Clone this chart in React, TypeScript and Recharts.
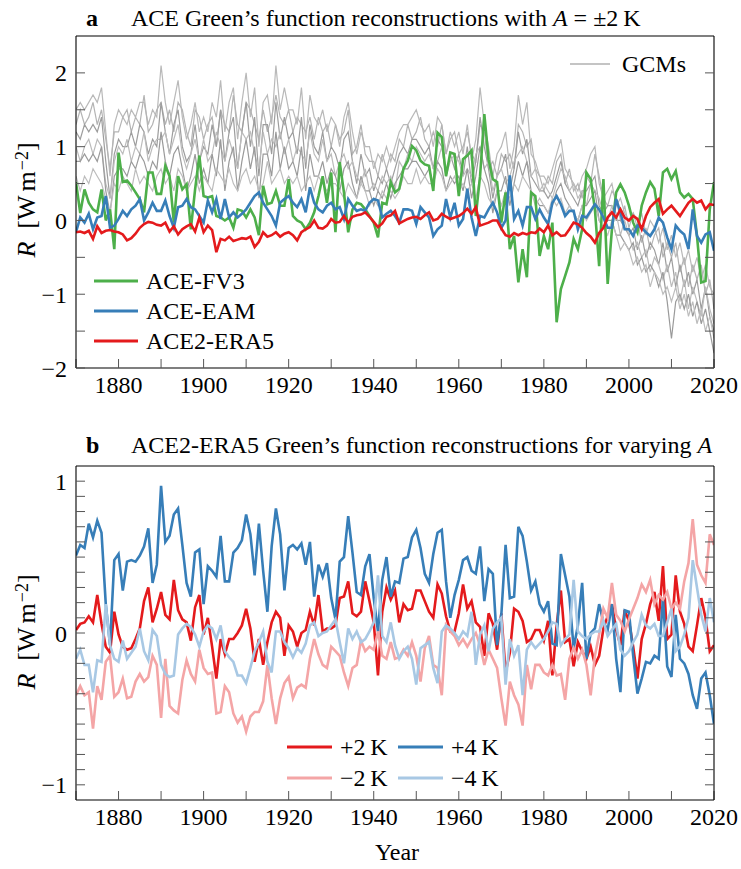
import React from 'react';
import { LineChart, Line, XAxis, YAxis } from 'recharts';

const FONT = '"Liberation Serif", "Times New Roman", Times, serif';

// Years 1870..2020 (categories)
const YEARS: number[] = Array.from({ length: 151 }, (_, i) => 1870 + i);

const X_TICKS = [1870, 1880, 1890, 1900, 1910, 1920, 1930, 1940, 1950, 1960, 1970, 1980, 1990, 2000, 2010, 2020];
const YA_TICKS = [-2, -1.5, -1, -0.5, 0, 0.5, 1, 1.5, 2];
const YB_TICKS = [-1, -0.9, -0.8, -0.7, -0.6, -0.5, -0.4, -0.3, -0.2, -0.1, 0, 0.1, 0.2, 0.3, 0.4, 0.5, 0.6, 0.7, 0.8, 0.9, 1];

// ---------- Panel a ----------
const ACE_FV3 = [
  0.52, 0.1, 0.42, 0.24, 0.15, 0.11, 0.42, 0.0, 0.15, -0.39,
  0.92, 0.52, 0.54, 0.47, 0.38, 0.29, 0.11, 0.65, 0.65, 0.36,
  0.36, 0.74, 0.6, -0.03, 0.6, 0.42, 0.49, -0.12, 0.42, 0.88,
  0.33, 0.31, 0.33, 0.06, 0.04, 0.0, 0.04, -0.1, 0.15, 0.13,
  0.04, 0.15, 0.04, -0.2, 0.47, 0.22, 0.24, 0.4, 0.2, 0.2,
  0.56, 0.06, 0.0, -0.03, -0.12, -0.03, 0.11, 0.33, 0.6, 0.24,
  0.65, -0.16, 0.79, 0.38, -0.16, 0.15, 0.24, 0.22, 0.15, 0.06,
  -0.03, -0.23, 0.24, 0.22, 0.52, 0.38, 0.43, 0.7, 0.81, 1.01,
  0.95, 0.81, 0.76, 0.74, 0.4, 1.19, 1.13, 0.6, 0.92, 0.9,
  0.33, 0.83, 0.88, 0.95, 0.06, 0.6, 1.44, 0.83, 0.56, 0.52,
  -0.03, 0.38, -0.39, -0.21, -0.84, -0.39, -0.77, 0.38, 0.33, -0.48,
  -0.21, -0.39, -0.03, -1.38, -0.93, -0.75, -0.57, -0.25, -0.39, -0.12,
  0.65, 0.56, 0.15, -0.62, 0.56, -0.86, -0.12, 0.38, 0.49, 0.38,
  0.2, -0.03, -0.16, 0.2, 0.38, 0.52, 0.43, 0.06, 0.65, 0.7,
  0.56, 0.67, 0.38, 0.31, 0.36, 0.29, -0.21, -0.84, -0.82, 0.15, 0.52,
];

const ACE_EAM = [
  -0.16, 0.04, -0.03, 0.09, -0.12, 0.04, 0.06, 0.33, -0.1, -0.07,
  0.02, 0.13, 0.06, 0.15, 0.2, 0.29, 0.0, 0.11, 0.24, 0.13,
  0.13, 0.27, 0.06, -0.1, 0.18, 0.2, 0.29, 0.18, 0.15, 0.06,
  -0.03, 0.27, 0.11, 0.29, 0.02, 0.29, 0.04, 0.11, 0.04, 0.09,
  0.15, 0.24, 0.33, 0.38, 0.24, 0.15, 0.06, -0.07, 0.24, 0.29,
  0.33, 0.24, 0.18, 0.29, 0.11, 0.45, 0.24, 0.15, 0.11, 0.2,
  0.24, 0.15, 0.18, 0.02, 0.29, 0.2, 0.13, 0.15, 0.13, 0.24,
  0.29, 0.27, 0.04, 0.09, 0.13, 0.06, -0.03, 0.15, 0.15, 0.13,
  -0.05, 0.18, 0.11, 0.04, -0.21, -0.12, -0.07, 0.29, 0.04, 0.24,
  -0.07, 0.02, 0.43, 0.04, -0.21, 0.06, 0.04, 0.15, 0.24, 0.11,
  -0.1, 0.0, 0.61, 0.02, 0.13, -0.07, 0.18, 0.18, 0.02, 0.15,
  0.04, -0.05, 0.24, 0.33, 0.22, 0.06, 0.13, 0.13, -0.12, 0.06,
  0.04, 0.13, 0.22, 0.15, 0.04, -0.1, -0.1, 0.29, 0.11, -0.12,
  -0.12, -0.21, -0.07, -0.1, -0.16, -0.21, -0.12, 0.04, -0.03, -0.23,
  -0.39, -0.07, -0.14, -0.19, -0.39, 0.15, -0.21, -0.3, -0.19, -0.16, -0.41,
];

const ACE2_ERA5 = [
  -0.16, -0.15, -0.17, -0.14, -0.25, -0.08, -0.17, -0.14, -0.13, -0.15,
  -0.16, -0.19, -0.27, -0.24, -0.18, -0.1, -0.05, -0.02, -0.03, -0.06,
  -0.07, -0.03, -0.15, -0.08, -0.19, -0.12, -0.08, -0.05, -0.15, 0.04,
  -0.16, -0.07, -0.13, -0.43, -0.25, -0.27, -0.22, -0.28, -0.26, -0.24,
  -0.25, -0.22, -0.36, -0.29, -0.16, -0.22, -0.2, -0.16, -0.22, -0.18,
  -0.16, -0.2, -0.27, -0.16, -0.12, -0.09, 0.0, -0.1, -0.11, -0.07,
  0.02, -0.03, -0.02, 0.06, -0.03, 0.05, 0.07, 0.08, 0.11, 0.05,
  -0.02, -0.09, -0.04, 0.05, 0.07, 0.13, -0.04, -0.01, 0.02, 0.04,
  0.05, 0.02, 0.07, 0.11, 0.0, 0.02, 0.09, 0.05, 0.02, 0.04,
  0.06, 0.1, 0.16, 0.09, 0.18, -0.07, -0.05, -0.03, 0.0, 0.0,
  -0.11, -0.2, -0.22, -0.17, -0.2, -0.17, -0.19, -0.16, -0.17, -0.11,
  -0.16, -0.07, -0.2, -0.16, -0.21, -0.2, -0.12, -0.03, -0.05, -0.1,
  -0.17, -0.22, -0.3, -0.17, -0.1, 0.04, 0.11, 0.04, 0.15, 0.04,
  0.0, 0.06, 0.02, -0.12, 0.06, 0.18, 0.24, 0.29, 0.09, 0.15,
  0.2, 0.13, 0.06, 0.15, 0.24, 0.29, 0.24, 0.27, 0.15, 0.22, 0.21,
];

const GCM_1 = [
  1.5, 1.6, 1.5, 1.6, 1.7, 1.6, 1.8, 1.2, 0.6, 1.3,
  1.5, 1.4, 1.3, 1.5, 1.4, 1.6, 1.6, 1.3, 1.5, 1.4,
  2.1, 1.6, 1.3, 1.6, 1.9, 1.4, 1.1, 1.3, 1.6, 1.2,
  1.4, 1.2, 1.6, 1.4, 1.9, 1.2, 1.6, 1.8, 1.1, 1.6,
  2.0, 1.4, 1.8, 1.0, 1.6, 1.7, 1.3, 2.1, 1.5, 1.8,
  1.5, 1.5, 1.3, 1.8, 1.1, 1.7, 1.4, 1.3, 1.5, 1.2,
  1.4, 1.3, 1.0, 1.4, 1.6, 1.2, 0.9, 1.2, 1.0, 1.0,
  0.7, 0.9, 0.8, 1.0, 0.8, 1.0, 1.2, 1.3, 1.3, 1.4,
  1.5, 1.3, 1.2, 1.3, 1.0, 1.4, 1.3, 0.9, 1.2, 1.0,
  1.2, 0.9, 1.3, 0.8, 1.1, 1.8, 1.3, 1.0, 0.6, 0.9,
  1.0, 1.2, 0.7, 1.0, 1.7, 1.3, 1.6, 0.9, 0.8, 0.6,
  0.6, 0.5, 0.7, 0.9, 1.1, 0.7, 0.6, 0.5, 0.4, 0.6,
  0.7, 0.9, 1.0, 0.5, 0.3, 0.4, 0.5, 0.2, 0.3, 0.1,
  0.0, 0.1, -0.1, 0.1, -0.2, 0.0, -0.1, -0.3, -0.1, -0.4,
  -0.2, -0.5, -0.3, -0.6, -0.4, -0.7, -0.5, -0.8, -0.6, -0.9, -1.0,
];

const GCM_2 = [
  1.3, 1.5, 1.3, 1.4, 1.6, 1.3, 1.5, 1.1, 0.7, 1.2,
  1.2, 1.4, 1.5, 1.2, 1.4, 1.3, 1.7, 1.2, 1.3, 1.5,
  1.6, 1.3, 1.5, 1.2, 1.6, 1.5, 1.2, 1.0, 1.5, 1.4,
  1.1, 1.3, 1.4, 1.0, 1.5, 1.3, 1.2, 1.7, 1.3, 1.2,
  1.6, 1.5, 1.3, 1.1, 1.5, 1.2, 1.4, 1.7, 1.4, 1.3,
  1.5, 1.2, 1.4, 1.3, 1.2, 1.4, 1.1, 1.4, 1.2, 1.3,
  1.0, 1.3, 1.1, 1.2, 1.5, 0.9, 1.0, 1.3, 0.9, 0.8,
  0.8, 0.6, 0.9, 0.7, 0.9, 0.8, 1.1, 1.0, 1.3, 1.1,
  1.2, 1.4, 1.1, 1.0, 1.2, 1.0, 1.3, 0.9, 1.1, 1.2,
  0.9, 1.0, 1.2, 0.9, 0.8, 1.3, 1.2, 0.7, 0.8, 0.6,
  0.9, 0.8, 0.9, 0.7, 1.3, 1.2, 1.0, 1.1, 0.7, 0.6,
  0.4, 0.6, 0.5, 0.8, 0.9, 0.5, 0.7, 0.4, 0.5, 0.3,
  0.6, 0.5, 0.9, 0.6, 0.3, 0.2, 0.4, 0.3, 0.0, 0.2,
  -0.1, 0.1, 0.0, -0.3, -0.1, -0.4, -0.2, -0.1, -0.5, -0.3,
  -0.5, -0.3, -0.7, -0.5, -0.9, -0.6, -0.8, -0.6, -1.0, -0.8, -1.2,
];

const GCM_3 = [
  1.2, 1.1, 1.3, 1.2, 1.3, 1.2, 1.4, 0.8, 0.3, 0.9,
  1.1, 1.0, 1.0, 1.2, 1.0, 1.3, 1.2, 0.9, 1.1, 1.0,
  1.6, 1.2, 0.9, 1.3, 1.5, 1.0, 0.8, 0.9, 1.3, 0.8,
  1.0, 0.9, 1.3, 1.0, 1.5, 0.8, 1.2, 1.4, 0.7, 1.2,
  1.6, 1.0, 1.4, 0.6, 1.3, 1.3, 0.9, 1.6, 1.1, 1.4,
  1.1, 1.2, 0.9, 1.4, 0.7, 1.3, 1.0, 0.9, 1.2, 0.8,
  1.0, 0.9, 0.7, 1.1, 1.2, 0.8, 0.5, 0.9, 0.6, 0.7,
  0.4, 0.6, 0.5, 0.7, 0.5, 0.7, 0.9, 1.0, 0.9, 1.1,
  1.1, 1.0, 0.9, 1.0, 0.7, 1.1, 1.0, 0.6, 0.9, 0.7,
  0.9, 0.6, 1.0, 0.5, 0.8, 1.4, 1.0, 0.7, 0.3, 0.6,
  0.7, 0.9, 0.4, 0.7, 1.2, 0.9, 1.1, 0.6, 0.5, 0.4,
  0.4, 0.3, 0.4, 0.6, 0.8, 0.5, 0.4, 0.3, 0.2, 0.4,
  0.4, 0.5, 0.6, 0.2, 0.1, 0.2, 0.2, 0.0, 0.0, -0.1,
  -0.2, -0.1, -0.4, -0.2, -0.5, -0.3, -0.4, -0.6, -0.3, -0.7,
  -0.5, -0.9, -0.6, -0.9, -0.7, -1.0, -0.8, -1.2, -0.9, -1.3, -1.5,
];

const GCM_4 = [
  1.0, 0.8, 1.0, 1.1, 0.9, 1.1, 1.0, 0.5, 0.3, 0.8,
  1.0, 0.9, 1.1, 0.8, 1.0, 0.9, 1.2, 0.8, 1.0, 1.1,
  1.1, 1.2, 0.9, 1.1, 1.3, 0.9, 0.7, 0.9, 1.1, 0.8,
  1.1, 0.8, 0.9, 1.2, 1.0, 0.8, 1.1, 0.9, 0.7, 1.2,
  1.1, 1.2, 0.9, 0.7, 1.2, 0.9, 1.1, 1.0, 1.2, 0.9,
  1.1, 0.8, 1.0, 0.9, 0.8, 1.2, 0.9, 0.8, 1.1, 0.8,
  0.9, 0.6, 0.8, 0.9, 0.7, 0.8, 0.6, 0.5, 0.7, 0.4,
  0.5, 0.4, 0.6, 0.5, 0.6, 0.4, 0.8, 0.7, 0.9, 0.8,
  1.0, 0.9, 0.8, 0.9, 0.7, 0.8, 1.0, 0.6, 0.8, 0.9,
  0.8, 0.6, 0.7, 0.6, 0.9, 1.0, 0.7, 0.8, 0.4, 0.6,
  0.7, 0.5, 0.6, 0.8, 0.9, 1.0, 0.8, 0.6, 0.7, 0.4,
  0.5, 0.4, 0.3, 0.5, 0.7, 0.6, 0.4, 0.5, 0.3, 0.4,
  0.2, 0.5, 0.4, 0.3, 0.1, 0.0, 0.2, 0.1, -0.2, 0.0,
  -0.2, -0.4, -0.3, -0.5, -0.4, -0.7, -0.5, -0.6, -0.8, -0.6,
  -0.9, -0.7, -1.1, -0.8, -1.2, -0.9, -1.1, -1.3, -0.9, -1.2, -1.4,
];

const GCM_5 = [
  0.8, 0.8, 0.9, 0.8, 0.9, 0.8, 1.0, 0.4, 0.1, 0.6,
  0.7, 0.7, 0.6, 0.8, 0.7, 0.9, 0.8, 0.6, 0.8, 0.7,
  1.2, 0.8, 0.6, 0.9, 1.0, 0.7, 0.4, 0.6, 0.9, 0.5,
  0.7, 0.5, 0.9, 0.6, 1.1, 0.4, 0.8, 1.0, 0.4, 0.8,
  1.1, 0.7, 1.0, 0.3, 0.9, 0.9, 0.6, 1.2, 0.7, 1.0,
  0.7, 0.8, 0.6, 1.0, 0.4, 0.9, 0.6, 0.6, 0.8, 0.5,
  0.7, 0.6, 0.4, 0.7, 0.8, 0.5, 0.3, 0.6, 0.4, 0.4,
  0.2, 0.4, 0.3, 0.5, 0.3, 0.5, 0.6, 0.7, 0.7, 0.8,
  0.8, 0.7, 0.6, 0.7, 0.5, 0.8, 0.7, 0.4, 0.6, 0.5,
  0.6, 0.4, 0.7, 0.3, 0.6, 1.0, 0.7, 0.5, 0.1, 0.4,
  0.4, 0.6, 0.2, 0.5, 0.8, 0.6, 0.8, 0.4, 0.3, 0.2,
  0.2, 0.1, 0.2, 0.4, 0.5, 0.3, 0.2, 0.1, 0.0, 0.2,
  0.2, 0.3, 0.4, 0.0, -0.1, 0.0, 0.0, -0.2, -0.2, -0.3,
  -0.4, -0.3, -0.6, -0.5, -0.7, -0.6, -0.7, -0.9, -0.7, -1.1,
  -1.6, -1.1, -1.0, -1.2, -1.0, -1.3, -1.1, -1.4, -1.2, -1.5, -1.8,
];

const GCM_6 = [
  0.6, 0.4, 0.6, 0.5, 0.7, 0.6, 0.5, 0.3, 0.1, 0.5,
  0.4, 0.6, 0.5, 0.4, 0.7, 0.5, 0.6, 0.5, 0.4, 0.6,
  0.7, 0.5, 0.6, 0.4, 0.7, 0.6, 0.4, 0.5, 0.6, 0.4,
  0.6, 0.5, 0.4, 0.7, 0.6, 0.5, 0.7, 0.5, 0.4, 0.6,
  0.7, 0.5, 0.6, 0.4, 0.5, 0.8, 0.5, 0.6, 0.7, 0.5,
  0.6, 0.5, 0.6, 0.4, 0.5, 0.6, 0.4, 0.6, 0.5, 0.4,
  0.5, 0.5, 0.4, 0.3, 0.5, 0.4, 0.3, 0.5, 0.4, 0.2,
  0.3, 0.2, 0.4, 0.3, 0.4, 0.3, 0.4, 0.6, 0.5, 0.5,
  0.7, 0.5, 0.6, 0.5, 0.5, 0.7, 0.6, 0.4, 0.5, 0.6,
  0.4, 0.5, 0.4, 0.5, 0.3, 0.6, 0.5, 0.3, 0.2, 0.4,
  0.2, 0.4, 0.3, 0.5, 0.4, 0.6, 0.5, 0.4, 0.2, 0.3,
  0.2, 0.1, 0.3, 0.2, 0.3, 0.1, 0.2, 0.1, 0.0, 0.2,
  0.0, 0.1, 0.2, 0.0, -0.1, -0.2, 0.0, -0.2, -0.4, -0.3,
  -0.4, -0.6, -0.5, -0.7, -0.6, -0.9, -0.7, -0.8, -1.0, -0.9,
  -1.1, -0.9, -1.2, -1.0, -1.3, -1.1, -1.4, -1.2, -1.5, -1.3, -1.6,
];

// ---------- Panel b ----------
const PLUS_2K = [
  0.02, 0.06, 0.07, 0.11, 0.07, 0.25, 0.06, -0.09, -0.13, 0.14,
  -0.01, -0.09, -0.11, -0.1, -0.04, 0.03, 0.21, 0.3, 0.07, 0.16,
  0.27, 0.12, 0.09, 0.35, 0.15, 0.09, 0.07, -0.05, 0.17, 0.25,
  -0.01, 0.1, -0.09, -0.3, -0.04, -0.14, -0.04, -0.04, 0.0, 0.05,
  0.16, 0.03, -0.19, -0.04, -0.21, -0.06, 0.07, 0.14, 0.1, -0.15,
  0.05, 0.01, -0.09, 0.0, 0.02, 0.14, 0.05, 0.25, 0.01, 0.03,
  0.03, 0.05, 0.23, 0.24, 0.34, 0.13, 0.11, 0.14, 0.34, 0.21,
  0.07, -0.28, 0.14, 0.3, 0.22, 0.28, 0.07, 0.19, 0.15, 0.16,
  0.28, 0.28, 0.21, 0.14, 0.1, 0.32, 0.26, 0.11, 0.01, 0.01,
  0.13, 0.32, 0.16, 0.21, 0.07, 0.04, -0.15, 0.13, 0.06, -0.11,
  0.13, -0.26, -0.13, 0.16, 0.14, 0.08, -0.06, -0.04, 0.02, 0.02,
  -0.05, 0.08, -0.28, 0.05, 0.28, -0.06, -0.04, -0.22, -0.06, -0.12,
  -0.17, -0.09, -0.21, -0.15, 0.03, 0.11, 0.19, 0.02, -0.08, 0.15,
  0.08, -0.09, -0.3, -0.04, 0.06, 0.19, 0.27, 0.08, 0.44, -0.04,
  -0.01, 0.38, 0.14, 0.06, -0.09, -0.12, 0.05, 0.23, 0.1, -0.12, -0.08,
];

const PLUS_4K = [
  0.51, 0.58, 0.56, 0.72, 0.63, 0.74, 0.66, 0.19, -0.08, 0.48,
  0.52, 0.28, 0.47, 0.48, 0.47, 0.51, 0.57, 0.69, 0.33, 0.45,
  0.97, 0.6, 0.64, 0.78, 0.82, 0.58, 0.33, 0.24, 0.53, 0.55,
  0.19, 0.44, 0.41, 0.37, 0.64, 0.34, 0.34, 0.53, 0.56, 0.61,
  0.78, 0.65, 0.38, 0.72, 0.41, 0.14, 0.57, 0.82, 0.65, 0.28,
  0.56, 0.58, 0.55, 0.59, 0.45, 0.6, 0.24, 0.45, 0.37, 0.46,
  0.23, 0.09, 0.47, 0.5, 0.77, 0.53, 0.27, 0.25, 0.44, 0.52,
  0.23, 0.01, 0.35, 0.5, 0.24, 0.34, 0.33, 0.49, 0.5, 0.63,
  0.68, 0.56, 0.39, 0.33, 0.52, 0.66, 0.68, 0.34, 0.1, 0.25,
  0.35, 0.48, 0.5, 0.41, 0.39, 0.57, 0.21, 0.42, 0.39, -0.08,
  0.12, 0.58, 0.23, 0.24, 0.7, 0.64, 0.47, 0.28, 0.34, 0.19,
  0.14, 0.21, -0.07, -0.08, 0.52, 0.38, 0.24, -0.1, 0.05, 0.33,
  -0.17, 0.0, 0.03, 0.19, 0.07, 0.02, 0.19, -0.17, -0.39, 0.15,
  0.14, -0.15, -0.4, -0.3, -0.19, -0.2, -0.15, -0.17, 0.23, -0.22,
  -0.29, 0.12, -0.17, -0.2, -0.27, -0.41, -0.5, -0.3, -0.26, -0.41, -0.6,
];

const MINUS_2K = [
  -0.41, -0.35, -0.41, -0.39, -0.63, -0.35, -0.44, -0.19, -0.15, -0.42,
  -0.39, -0.3, -0.43, -0.42, -0.32, -0.27, -0.32, -0.29, -0.15, -0.21,
  -0.56, -0.17, -0.48, -0.51, -0.53, -0.31, -0.18, -0.27, -0.32, -0.11,
  -0.23, -0.27, -0.26, -0.53, -0.52, -0.35, -0.39, -0.53, -0.59, -0.55,
  -0.65, -0.55, -0.52, -0.52, -0.45, -0.21, -0.43, -0.6, -0.43, -0.33,
  -0.29, -0.43, -0.36, -0.34, -0.36, -0.17, -0.04, -0.14, -0.21, -0.23,
  -0.09, -0.12, -0.15, -0.26, -0.35, -0.23, -0.21, -0.05, -0.12, -0.09,
  -0.11, 0.01, -0.15, -0.17, -0.06, -0.17, -0.16, -0.11, -0.15, -0.06,
  -0.15, -0.32, -0.1, -0.02, -0.21, -0.23, -0.41, 0.05, 0.01, -0.02,
  -0.08, -0.04, -0.09, -0.04, 0.0, -0.08, -0.21, -0.11, -0.17, -0.23,
  -0.43, -0.61, -0.32, -0.41, -0.47, -0.61, -0.21, -0.37, -0.21, -0.21,
  -0.26, -0.28, -0.21, -0.28, -0.27, -0.44, -0.17, -0.1, -0.17, -0.11,
  -0.21, -0.41, -0.15, -0.01, 0.16, 0.1, 0.33, 0.12, 0.08, 0.01,
  0.09, 0.16, 0.23, 0.32, 0.27, 0.35, 0.19, 0.25, 0.22, 0.27,
  0.16, 0.2, 0.16, 0.34, 0.46, 0.75, 0.45, 0.38, 0.33, 0.65, 0.58,
];

const MINUS_4K = [
  -0.17, -0.11, -0.21, -0.21, -0.39, -0.18, -0.19, 0.19, -0.08, -0.17,
  -0.19, -0.05, -0.17, -0.13, -0.09, 0.03, -0.12, -0.18, 0.02, -0.02,
  -0.21, -0.27, -0.29, -0.28, -0.01, 0.03, 0.06, 0.04, -0.01, -0.09,
  0.01, 0.05, 0.03, -0.04, 0.05, -0.12, -0.16, -0.19, -0.28, -0.28,
  -0.33, -0.23, -0.12, -0.06, 0.01, -0.19, -0.26, 0.01, 0.01, -0.06,
  -0.1, -0.16, -0.1, -0.13, -0.07, 0.05, 0.07, -0.02, 0.0, 0.01,
  0.05, 0.09, -0.06, -0.2, 0.03, -0.04, 0.01, -0.06, -0.04, 0.01,
  0.07, 0.38, -0.02, -0.06, 0.07, -0.08, -0.17, -0.12, -0.09, -0.17,
  -0.34, -0.1, -0.08, -0.06, -0.23, -0.33, 0.01, 0.05, 0.03, 0.0,
  -0.04, 0.01, -0.02, 0.14, -0.21, -0.01, 0.05, -0.12, 0.03, 0.07,
  0.1, -0.34, -0.04, -0.15, -0.08, -0.41, -0.11, -0.06, -0.1, -0.07,
  -0.04, 0.01, 0.07, 0.06, -0.08, -0.04, -0.01, 0.35, 0.01, -0.02,
  -0.04, -0.01, 0.01, 0.01, 0.08, -0.02, 0.02, 0.06, -0.11, -0.15,
  -0.12, -0.06, -0.01, 0.12, 0.05, 0.03, 0.06, -0.02, -0.02, 0.07,
  0.16, -0.12, -0.09, -0.01, 0.1, 0.48, 0.3, 0.12, 0.01, 0.23, 0.07,
];

const GCMS = [GCM_1, GCM_2, GCM_3, GCM_4, GCM_5, GCM_6];
const GCM_COLORS = ['#b9b9b9', '#b4b4b4', '#9d9d9d', '#bcbcbc', '#9a9a9a', '#bdbdbd'];

const C_GREEN = '#4daf4a';
const C_BLUE = '#377eb8';
const C_RED = '#e41a1c';
const C_PINK = '#f4a5a6';
const C_LBLUE = '#a8c8e4';

const dataA = YEARS.map((year, i) => {
  const row: Record<string, number> = { year, fv3: ACE_FV3[i], eam: ACE_EAM[i], era5: ACE2_ERA5[i] };
  GCMS.forEach((g, k) => { row['gcm' + k] = g[i]; });
  return row;
});

const dataB = YEARS.map((year, i) => ({
  year, p2: PLUS_2K[i], p4: PLUS_4K[i], m2: MINUS_2K[i], m4: MINUS_4K[i],
}));

const fmtX = (v: number) => (v % 20 === 0 ? String(v) : '');
const fmtY = (v: number) => {
  const r = Math.round(v);
  if (Math.abs(v - r) > 1e-6) return '';
  return r < 0 ? '\u2212' + Math.abs(r) : String(r);
};
const blank = () => '';

const TICK_LEN = -9;
const axisLineStyle = { stroke: '#000', strokeWidth: 1.1 };
const tickLineStyle = { stroke: '#555', strokeWidth: 1 };
const tickText = { fill: '#000', fontSize: 24, fontFamily: FONT };

function frameAxes(yDomain: [number, number], yTicks: number[]) {
  return [
    <XAxis key="xb" xAxisId="b" dataKey="year" type="number" domain={[1870, 2020]} ticks={X_TICKS}
      tickFormatter={fmtX} interval={0} allowDataOverflow height={32} tickSize={TICK_LEN} tickMargin={17}
      axisLine={axisLineStyle} tickLine={tickLineStyle} tick={tickText} />,
    <XAxis key="xt" xAxisId="t" orientation="top" type="number" domain={[1870, 2020]} ticks={X_TICKS}
      tickFormatter={blank} interval={0} allowDataOverflow height={1} tickSize={TICK_LEN}
      axisLine={axisLineStyle} tickLine={tickLineStyle} tick={tickText} />,
    <YAxis key="yl" yAxisId="l" type="number" domain={yDomain} ticks={yTicks} tickFormatter={fmtY}
      interval={0} allowDataOverflow width={50} tickSize={TICK_LEN} tickMargin={18}
      axisLine={axisLineStyle} tickLine={tickLineStyle} tick={tickText} />,
    <YAxis key="yr" yAxisId="r" orientation="right" type="number" domain={yDomain} ticks={yTicks}
      tickFormatter={blank} interval={0} allowDataOverflow width={1} tickSize={TICK_LEN}
      axisLine={axisLineStyle} tickLine={tickLineStyle} tick={tickText} />,
  ];
}

const Swatch = ({ color, w, sw }: { color: string; w: number; sw: number }) => (
  <svg width={w} height={10} style={{ display: 'block' }}>
    <line x1={0} y1={5} x2={w} y2={5} stroke={color} strokeWidth={sw} />
  </svg>
);

const abs = (left: number, top: number, extra: React.CSSProperties = {}): React.CSSProperties => ({
  position: 'absolute', left, top, ...extra,
});

const LegendItem = ({ left, cy, color, label, sw = 3, w = 45, gap = 8 }:
  { left: number; cy: number; color: string; label: string; sw?: number; w?: number; gap?: number }) => (
  <div style={abs(left, cy - 15, { height: 30, display: 'flex', alignItems: 'center', whiteSpace: 'nowrap' })}>
    <Swatch color={color} w={w} sw={sw} />
    <span style={{ marginLeft: gap, fontSize: 24, lineHeight: '30px' }}>{label}</span>
  </div>
);

const YLabel = ({ cx, cy }: { cx: number; cy: number }) => (
  <div style={abs(cx, cy, { transform: 'translate(-50%, -50%) rotate(-90deg)', whiteSpace: 'nowrap', fontSize: 26, lineHeight: '26px' })}>
    <i>R</i>&nbsp;&nbsp;[W<span style={{ marginLeft: 4 }}>m</span><sup style={{ fontSize: 18, verticalAlign: 'top', position: 'relative', top: -5, marginLeft: 1 }}>{'\u2212'}2</sup>]
  </div>
);

export default function App() {
  return (
    <div style={{ position: 'absolute', left: 0, top: 0, width: 741, height: 869, background: '#fff', fontFamily: FONT, color: '#000' }}>
      {/* Panel a title */}
      <div style={abs(86, 5, { fontSize: 24, lineHeight: '26px', whiteSpace: 'nowrap' })}>
        <b style={{ display: 'inline-block', width: 45 }}>a</b>
        ACE Green’s function reconstructions with <i>A</i> = ±2{'\u2009'}K
      </div>

      <div style={abs(0, 0)}>
        <LineChart width={741} height={400} data={dataA} margin={{ top: 35, right: 26, bottom: 0, left: 26 }}>
          {frameAxes([-2, 2.5], YA_TICKS)}
          {GCMS.map((_, k) => (
            <Line key={'g' + k} xAxisId="b" yAxisId="l" dataKey={'gcm' + k} type="linear" stroke={GCM_COLORS[k]}
              strokeWidth={1.2} dot={false} activeDot={false} isAnimationActive={false} />
          ))}
          <Line xAxisId="b" yAxisId="l" dataKey="fv3" type="linear" stroke={C_GREEN} strokeWidth={2.6} dot={false} activeDot={false} isAnimationActive={false} />
          <Line xAxisId="b" yAxisId="l" dataKey="eam" type="linear" stroke={C_BLUE} strokeWidth={2.6} dot={false} activeDot={false} isAnimationActive={false} />
          <Line xAxisId="b" yAxisId="l" dataKey="era5" type="linear" stroke={C_RED} strokeWidth={2.6} dot={false} activeDot={false} isAnimationActive={false} />
        </LineChart>
      </div>

      <YLabel cx={27} cy={200} />

      {/* Panel a legends */}
      <LegendItem left={570} cy={64} color="#b0b0b0" label="GCMs" sw={1.6} w={40} gap={12} />
      <LegendItem left={94} cy={281} color={C_GREEN} label="ACE-FV3" w={44} />
      <LegendItem left={94} cy={311} color={C_BLUE} label="ACE-EAM" w={44} />
      <LegendItem left={94} cy={341} color={C_RED} label="ACE2-ERA5" w={44} />

      {/* Panel b title */}
      <div style={abs(86, 432, { fontSize: 24, lineHeight: '26px', whiteSpace: 'nowrap' })}>
        <b style={{ display: 'inline-block', width: 45 }}>b</b>
        ACE2-ERA5 Green’s function reconstructions for varying <i>A</i>
      </div>

      <div style={abs(0, 430)}>
        <LineChart width={741} height={402} data={dataB} margin={{ top: 35, right: 26, bottom: 0, left: 26 }}>
          {frameAxes([-1.1, 1.1], YB_TICKS)}
          <Line xAxisId="b" yAxisId="l" dataKey="p2" type="linear" stroke={C_RED} strokeWidth={2.6} dot={false} activeDot={false} isAnimationActive={false} />
          <Line xAxisId="b" yAxisId="l" dataKey="p4" type="linear" stroke={C_BLUE} strokeWidth={2.6} dot={false} activeDot={false} isAnimationActive={false} />
          <Line xAxisId="b" yAxisId="l" dataKey="m2" type="linear" stroke={C_PINK} strokeWidth={2.6} dot={false} activeDot={false} isAnimationActive={false} />
          <Line xAxisId="b" yAxisId="l" dataKey="m4" type="linear" stroke={C_LBLUE} strokeWidth={2.6} dot={false} activeDot={false} isAnimationActive={false} />
        </LineChart>
      </div>

      <YLabel cx={27} cy={632} />

      {/* Panel b legend */}
      <LegendItem left={287} cy={747} color={C_RED} label={'+2\u2009K'} />
      <LegendItem left={398} cy={747} color={C_BLUE} label={'+4\u2009K'} />
      <LegendItem left={287} cy={778} color={C_PINK} label={'\u22122\u2009K'} />
      <LegendItem left={398} cy={778} color={C_LBLUE} label={'\u22124\u2009K'} />

      <div style={abs(397, 852, { transform: 'translate(-50%, -50%)', fontSize: 24, whiteSpace: 'nowrap' })}>Year</div>
    </div>
  );
}
